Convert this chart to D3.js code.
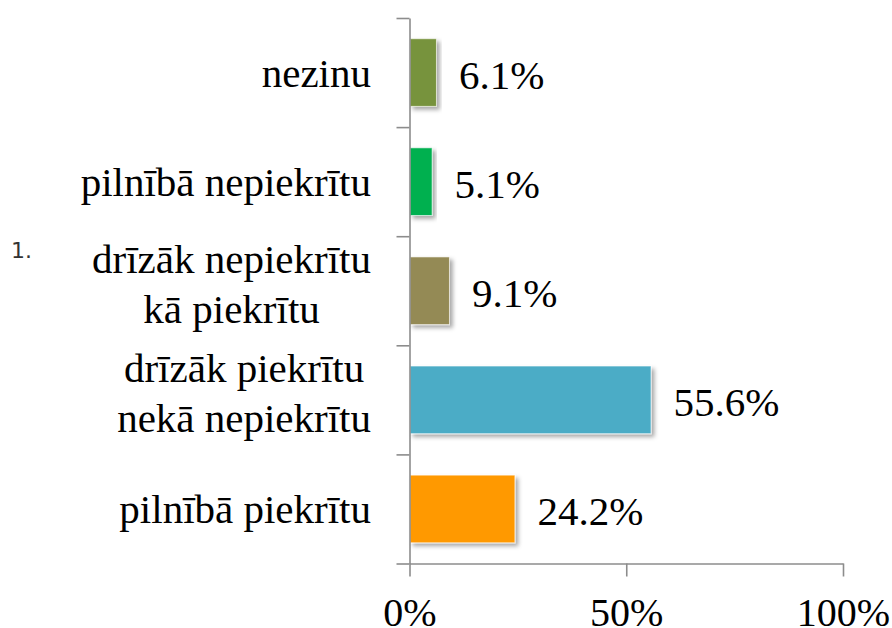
<!DOCTYPE html>
<html>
<head>
<meta charset="utf-8">
<script src="https://cdn.jsdelivr.net/npm/d3@7"></script>
<style>
  body { margin: 0; background: #fff; }
  svg { display: block; }
  .serif { font-family: "Liberation Serif", "Times New Roman", serif; }
</style>
</head>
<body>
<div class="container"></div>
<script>
// data, top to bottom
var categories = [
  ["nezinu"],
  ["pilnībā nepiekrītu"],
  ["drīzāk nepiekrītu", "kā piekrītu"],
  ["drīzāk piekrītu", "nekā nepiekrītu"],
  ["pilnībā piekrītu"]
];
var values = [6.1, 5.1, 9.1, 55.6, 24.2];
var colors = ["#77933C", "#00B050", "#948A54", "#4BACC6", "#FF9900"];
var xTicks = [0, 50, 100];

var width = 892, height = 628;
var plotLeft = 409.5, plotRight = 843, plotTop = 18, plotBottom = 563.5;

var svg = d3.select('.container')
  .append('svg').attr('width', width).attr('height', height);

var defs = svg.append('defs');
var shadow = defs.append('filter').attr('id', 'shadow')
  .attr('x', '-10%').attr('y', '-10%').attr('width', '130%').attr('height', '140%');
shadow.append('feDropShadow')
  .attr('dx', 3).attr('dy', 3).attr('stdDeviation', 2)
  .attr('flood-color', '#000').attr('flood-opacity', 0.35);

var x = d3.scaleLinear().domain([0, 100]).range([plotLeft, plotRight]);
var idx = d3.range(categories.length);
var y = d3.scaleBand().domain(idx).range([plotTop, plotBottom])
  .paddingInner(0.38).paddingOuter(0.19);
var yEdges = d3.scaleLinear().domain([0, categories.length]).range([plotTop, plotBottom]);

// bars
svg.selectAll('rect.bar').data(idx).enter().append('rect')
  .attr('class', 'bar')
  .attr('x', x(0) + 0.5)
  .attr('y', function(i) { return y(i); })
  .attr('width', function(i) { return x(values[i]) - x(0); })
  .attr('height', y.bandwidth())
  .style('fill', function(i) { return colors[i]; })
  .style('stroke', 'rgba(255,255,255,0.6)')
  .style('stroke-width', 1)
  .attr('filter', 'url(#shadow)');

// y axis (ticks on category boundaries)
var yAxis = svg.append('g')
  .attr('transform', 'translate(' + plotLeft + ',0)')
  .call(d3.axisLeft(yEdges).tickValues(d3.range(categories.length + 1))
    .tickSize(13).tickSizeOuter(0).tickFormat(''));

// x axis
var xAxis = svg.append('g')
  .attr('transform', 'translate(0,' + plotBottom + ')')
  .call(d3.axisBottom(x).tickValues(xTicks).tickSize(13).tickSizeOuter(0)
    .tickPadding(21).tickFormat(function(d) { return d + '%'; }));

[yAxis, xAxis].forEach(function(a) {
  a.selectAll('path, line').attr('stroke', '#8c8c8c').attr('stroke-width', 1.6);
});
xAxis.attr('font-family', null).attr('font-size', null);
xAxis.selectAll('text').attr('class', 'serif')
  .attr('font-size', 40).attr('fill', '#000');

// category labels
var lineH = 50, labelRight = 371;
var cat = svg.selectAll('text.cat').data(idx).enter().append('text')
  .attr('class', 'cat serif')
  .attr('font-size', 41).attr('fill', '#000')
  .attr('text-anchor', 'middle');
cat.each(function(i) {
  var t = d3.select(this);
  var lines = categories[i];
  var cy = y(i) + y.bandwidth() / 2;
  var off = lines.length === 1 ? 14.5 : 7.5;
  lines.forEach(function(s, k) {
    t.append('tspan')
      .attr('y', cy + off + (k - (lines.length - 1) / 2) * lineH)
      .text(s);
  });
  var maxW = 0;
  t.selectAll('tspan').each(function() {
    maxW = Math.max(maxW, this.getComputedTextLength());
  });
  t.selectAll('tspan').attr('x', labelRight - maxW / 2);
});

// value labels
svg.selectAll('text.val').data(idx).enter().append('text')
  .attr('class', 'val serif')
  .attr('x', function(i) { return x(values[i]) + 23; })
  .attr('y', function(i) { return y(i) + y.bandwidth() / 2 + 16; })
  .attr('font-size', 41).attr('fill', '#000')
  .text(function(i) { return values[i].toFixed(1) + '%'; });

// stray list number
svg.append('text')
  .attr('x', 11).attr('y', 258)
  .attr('font-family', "DejaVu Sans, sans-serif").attr('font-size', 22)
  .attr('fill', '#333')
  .text('1.');
</script>
</body>
</html>
